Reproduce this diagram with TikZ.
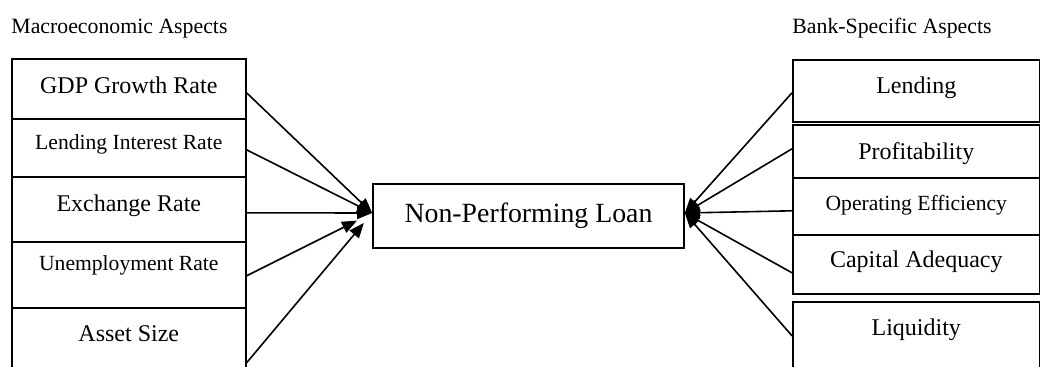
\documentclass[tikz,border=0pt]{standalone}
\usepackage{fontspec}
\setmainfont{Liberation Serif}
\usepackage{tikz}
\usetikzlibrary{arrows.meta, calc}

\begin{document}
\begin{tikzpicture}[
  x=0.5pt, y=-0.5pt,
  lbox/.style={draw, line width=0.8pt, inner sep=0pt, anchor=north west,
    minimum width=117pt, align=center},
  rbox/.style={draw, line width=0.8pt, inner sep=0pt, anchor=north west,
    minimum width=123.5pt, align=center},
  big/.style={font=\fontsize{12}{14}\selectfont, text height=8.4pt},
  small/.style={font=\fontsize{10.8}{13}\selectfont, text height=7.6pt},
  lift/.style={text depth=#1},
  head/.style={font=\fontsize{10.9}{13}\selectfont, inner sep=0pt, anchor=base west},
  arr/.style={-{Triangle[length=7.5pt, width=6pt]}, line width=0.8pt}
]
  \useasboundingbox (0,0) rectangle (1040,366);

  % Headings
  \node[head] (macro) at (11,33) {Macroeconomic Aspects};
  \node[head] (bank) at (792,33) {Bank-Specific Aspects};

  % Macroeconomic aspects
  \node[lbox, big, lift=3.5pt, minimum height=30pt] (gdp) at (11,58) {GDP Growth Rate};
  \node[lbox, small, lift=5.5pt, minimum height=29pt] (lir) at (11,118) {Lending Interest Rate};
  \node[lbox, big, lift=6pt, minimum height=32.5pt] (exr) at (11,176) {Exchange Rate};
  \node[lbox, small, lift=11.5pt, minimum height=33pt] (une) at (11,241) {Unemployment Rate};
  \node[lbox, big, lift=14.5pt, minimum height=40pt] (ast) at (11,307) {Asset Size};

  % Bank-specific aspects
  \node[rbox, big, lift=5.5pt, minimum height=31pt] (lend) at (792,59) {Lending};
  \node[rbox, big, lift=0.5pt, minimum height=26.5pt] (prof) at (792,124) {Profitability};
  \node[rbox, small, lift=3pt, minimum height=28.5pt] (oper) at (792,177) {Operating Efficiency};
  \node[rbox, big, lift=5pt, minimum height=29.5pt] (cap) at (792,234) {Capital Adequacy};
  \node[rbox, big, lift=17.5pt, minimum height=43pt] (liq) at (792,301) {Liquidity};

  % Outcome
  \node[draw, line width=0.8pt, inner sep=0pt, minimum width=155.5pt, minimum height=32pt,
    font=\fontsize{13.9}{16}\selectfont, text height=9.7pt, lift=3.5pt] (npl) at (528.5,216) {Non-Performing Loan};

  % Paths
  \draw[arr] ($(gdp.east)+(0,4)$) -- ($(npl.west)+(0,-3)$);
  \draw[arr] ($(lir.east)+(0,2)$) -- ($(npl.west)+(0,-3)$);
  \draw[arr] ($(exr.east)+(0,3.5)$) -- ($(npl.west)+(0,-3)$);
  \draw[arr, shorten >=8.5pt] ($(une.east)+(0,1)$) -- ($(npl.west)+(0,-3)$);
  \draw[arr, shorten >=6.5pt] ($(ast.east)+(0,15)$) -- ($(npl.west)+(0,-3)$);

  \draw[arr] ($(lend.west)+(0,2)$) -- ($(npl.east)+(0,-3)$);
  \draw[arr] ($(prof.west)+(0,-2.5)$) -- ($(npl.east)+(0,-3)$);
  \draw[arr] ($(oper.west)+(0,4.5)$) -- ($(npl.east)+(0,-3)$);
  \draw[arr] ($(cap.west)+(0,8.5)$) -- ($(npl.east)+(0,-3)$);
  \draw[arr] ($(liq.west)+(0,-9)$) -- ($(npl.east)+(0,-3)$);
\end{tikzpicture}
\end{document}
